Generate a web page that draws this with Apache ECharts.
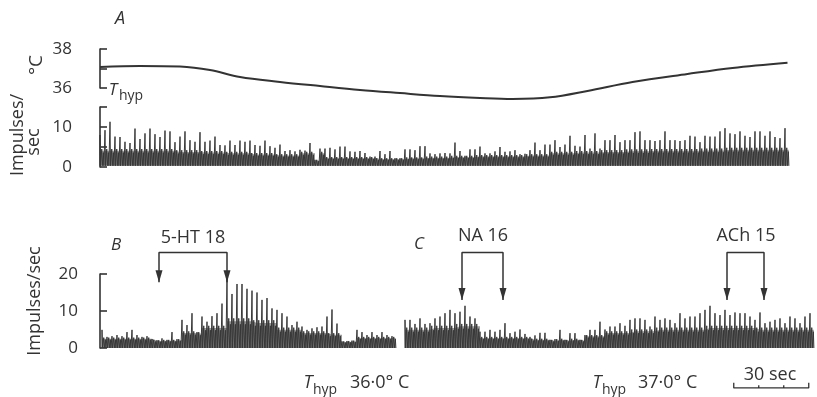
<!DOCTYPE html>
<html>
<head>
<meta charset="utf-8">
<script src="https://cdn.jsdelivr.net/npm/echarts@6/dist/echarts.min.js"></script>
<style>
  html, body { margin: 0; background: #fff; }
  #chart { width: 817px; height: 397px; }
</style>
</head>
<body>
<div id="chart"></div>
<script>
// time in seconds; ratemeter peaks read every 2 s, band level every 10 s
const DT = 2
const BAND_DT = 10
const X_MAX = 286

// A: hypothalamic temperature (deg C)
const tempTime = [0, 16, 32, 44, 56, 72, 88, 104, 120, 136, 152, 165, 180, 195, 213, 235, 253, 275]
const tempValues = [37.08, 37.13, 37.1, 36.92, 36.56, 36.31, 36.1, 35.9, 35.74, 35.59, 35.49, 35.44, 35.52, 35.85, 36.31, 36.72, 37.03, 37.3]

// A: impulses/sec
const startA = 0
const peaksA = [
  8, 9.2, 11.3, 7.6, 7.5, 6.3, 6, 9.6, 7, 8.4,
  9.6, 8.2, 7.5, 9.1, 8.9, 6.2, 7.6, 8.9, 6.7, 6.3,
  8.7, 6.3, 6.6, 7.6, 5.5, 5.4, 6.6, 5.5, 6.6, 6.3,
  6.6, 5.5, 5.3, 6.6, 5.2, 4.8, 5.6, 4.0, 4.2, 3.9,
  4.3, 4.1, 6.0, 1.8, 4.6, 4.6, 4.8, 4.4, 5.1, 5.1,
  3.9, 3.8, 4.0, 3.5, 2.6, 2.6, 4.0, 3.2, 4.0, 2.2,
  2.2, 4.4, 4.4, 4.2, 5.2, 5.2, 3.4, 3.2, 3.4, 3.5,
  3.4, 6.1, 4.0, 2.8, 4.4, 4.4, 5.1, 3.4, 3.4, 3.9,
  5.0, 3.8, 3.9, 4.2, 3.2, 3.3, 4.2, 6.1, 4.2, 5.6,
  5.6, 6.7, 5.0, 5.6, 7.8, 5.3, 5.1, 8.0, 4.6, 8.4,
  4.6, 6.7, 6.7, 8.0, 6.2, 6.7, 6.7, 8.7, 8.9, 6.7,
  6.7, 6.5, 6.7, 8.9, 6.7, 6.7, 6.5, 6.7, 7.8, 7.6,
  6.2, 7.8, 7.6, 7.6, 8.9, 9.7, 8.4, 8.2, 8.9, 7.8,
  7.5, 8.9, 8.9, 7.8, 8.9, 7.5, 7.2, 9.7
]
const bandA = [4.5, 4.5, 4.5, 4.2, 4, 3.8, 3.5, 3.2, 3.8, 2.5, 2.5, 2.2, 2.4, 2.6, 2.8, 3, 3, 3.2, 3.8, 4, 4.2, 4.4, 4.5, 4.5, 4.6, 4.8, 4.8, 4.8]
const floorA = 0.3

// B: 5-HT
const startB = 0.8
const peaksB = [
  4.9, 3.0, 3.2, 3.5, 3.2, 4.3, 4.9, 3.5, 3.0, 3.2,
  2.4, 2.1, 2.6, 2.2, 4.3, 2.4, 7.6, 6.2, 9.4, 4.3,
  8.5, 7.1, 8.6, 9.4, 12, 19, 14.6, 17.3, 17.3, 16,
  15.5, 15, 13, 13.5, 10.7, 10.3, 9.4, 8.5, 6.2, 7.1,
  5.8, 4.9, 5.3, 5.6, 5.8, 8.5, 10.4, 6.6, 1.8, 1.9,
  2.0, 4.9, 4.3, 3.5, 4.3, 3.5, 4.3, 3.5, 3.2
]
const bandB = [2.8, 2.8, 2.2, 4.5, 6, 8, 7.5, 5.5, 4.5, 4, 3, 3]

// C: NA and ACh
const startC = 122
const peaksC = [
  7.6, 7.6, 6.5, 8.0, 6.5, 6.7, 8.0, 8.5, 9.4, 10.3,
  9.4, 9.8, 11.4, 8.5, 8.0, 4.4, 4.4, 4.9, 4.4, 4.9,
  6.7, 4.0, 4.4, 5.0, 3.8, 3.0, 3.4, 4.1, 4.1, 2.2,
  2.4, 4.9, 2.2, 4.0, 4.0, 2.2, 3.5, 4.9, 4.9, 7.1,
  5.0, 5.8, 5.8, 6.7, 6.0, 7.6, 8.0, 8.0, 7.6, 5.8,
  8.5, 7.6, 8.0, 7.6, 6.7, 9.4, 8.0, 8.5, 8.5, 9.4,
  10.3, 11.4, 9.4, 8.9, 10.3, 8.9, 9.6, 9.4, 9.4, 8.5,
  7.6, 9.6, 6.7, 7.1, 7.6, 8.0, 6.7, 8.5, 8.0, 6.7,
  8.5, 9.4
]
const bandC = [5.5, 6, 6.5, 3, 3, 2.5, 2.5, 3.5, 4.5, 5, 5.5, 5.5, 6, 6, 5.5, 5.5, 5.5]
const floorBC = 0

// drug applications (bracket from on to off)
const drugNames = ['5-HT 18', 'NA 16', 'ACh 15']
const drugOn = [23.6, 144.8, 250.8]
const drugOff = [50.8, 161.2, 265.6]
const drugTip = [17.8, 13, 13]
const bracketTop = 25.8

// 30 sec time scale
const scaleStart = 253.5
const scaleLen = 30
const scaleTick = 10

const INK = '#333'
const TRACE = '#383838'
const FONT = "'Open Sans', 'DejaVu Sans', sans-serif"

function bandAt(band, i) {
  return band[Math.min(band.length - 1, Math.floor(i * DT / BAND_DT))]
}

// ratemeter strokes: one peak stroke and two band-level strokes per sample
function trace(start, peaks, band, floor) {
  const pts = []
  peaks.forEach((p, i) => {
    const t = start + i * DT
    const b = Math.min(bandAt(band, i), p)
    pts.push([t, floor], [t, p], [t + 0.2, floor], [t + 0.7, b], [t + 0.9, floor], [t + 1.35, b * 0.8], [t + 1.55, floor])
  })
  return pts
}

// dense dark mass of the trace, drawn as a filled band
function bandFill(start, peaks, band) {
  const pts = peaks.map((p, i) => [start + i * DT, Math.min(bandAt(band, i), p) * 0.9])
  pts.push([start + (peaks.length - 1) * DT + 1.5, pts[pts.length - 1][1]])
  return pts
}

const traceA = trace(startA, peaksA, bandA, floorA)
const traceBC = trace(startB, peaksB, bandB, floorBC)
  .concat([[null, null]])
  .concat(trace(startC, peaksC, bandC, floorBC))
const fillA = bandFill(startA, peaksA, bandA)
const fillBC = bandFill(startB, peaksB, bandB)
  .concat([[null, null]])
  .concat(bandFill(startC, peaksC, bandC))

const chart = echarts.init(document.getElementById('chart'), null, { renderer: 'canvas' })

function bracketAxis(gridIndex, min, max, interval, offset, margin, labelFn) {
  return {
    type: 'value', gridIndex, min, max, interval, offset,
    axisLine: { show: true, lineStyle: { color: INK, width: 1.6 } },
    axisTick: { show: true, inside: true, length: 7, lineStyle: { color: INK, width: 1.6 } },
    axisLabel: { margin, color: INK, fontSize: 17, fontFamily: FONT, formatter: labelFn },
    splitLine: { show: false }
  }
}

const xAxisBase = { type: 'value', min: 0, max: X_MAX, show: false }

const drugSeries = drugNames.map((name, i) => ({
  name,
  type: 'line',
  xAxisIndex: 2, yAxisIndex: 2,
  clip: false,
  silent: true,
  symbolSize: [7, 12],
  symbolOffset: [0, -6],
  lineStyle: { color: INK, width: 1.5 },
  itemStyle: { color: INK },
  data: [
    { value: [drugOn[i], drugTip[i]], symbol: 'triangle', symbolRotate: 180 },
    { value: [drugOn[i], bracketTop], symbol: 'none' },
    { value: [drugOff[i], bracketTop], symbol: 'none' },
    { value: [drugOff[i], drugTip[i]], symbol: 'triangle', symbolRotate: 180 }
  ]
}))

const scaleData = [[scaleStart, -9.4]]
for (let s = 0; s <= scaleLen; s += scaleTick) {
  const t = scaleStart + s
  scaleData.push([t, -10.8])
  if (s > 0 && s < scaleLen) scaleData.push([t, -10.1], [t, -10.8])
}
scaleData.push([scaleStart + scaleLen, -9.4])

function txt(text, x, y, size, opts = {}) {
  return {
    type: 'text', x, y, rotation: opts.rotation || 0, silent: true,
    style: {
      text, fill: INK, align: opts.align || 'center', verticalAlign: 'middle',
      font: (opts.italic ? 'italic ' : '') + size + 'px ' + FONT
    }
  }
}

function fillSeries(name, axis, data, floor) {
  return {
    name, type: 'line', xAxisIndex: axis, yAxisIndex: axis,
    step: 'end', showSymbol: false, silent: true, connectNulls: false,
    lineStyle: { width: 0 },
    areaStyle: { color: 'rgba(50,50,50,0.7)', origin: floor },
    data
  }
}

const option = {
  animation: false,
  backgroundColor: '#fff',
  grid: [
    { left: 100, top: 49, width: 2.5 * X_MAX, height: 39 },
    { left: 100, top: 107, width: 2.5 * X_MAX, height: 60 },
    { left: 100, top: 274, width: 2.5 * X_MAX, height: 74 }
  ],
  xAxis: [
    { ...xAxisBase, gridIndex: 0 },
    { ...xAxisBase, gridIndex: 1 },
    { ...xAxisBase, gridIndex: 2 }
  ],
  yAxis: [
    bracketAxis(0, 36, 38, 1, 12, 16, v => (v === 37 ? '' : v)),
    bracketAxis(1, 0, 15, 5, 12, 16, v => (v === 0 || v === 10 ? v : '')),
    bracketAxis(2, 0, 20, 10, 14, 8, v => v)
  ],
  series: [
    {
      name: 'Thyp', type: 'line', xAxisIndex: 0, yAxisIndex: 0,
      clip: false, smooth: 0.35, showSymbol: false, silent: true,
      lineStyle: { color: INK, width: 2 },
      data: tempTime.map((t, i) => [t, tempValues[i]])
    },
    fillSeries('Band A', 1, fillA, floorA),
    fillSeries('Band B/C', 2, fillBC, floorBC),
    {
      name: 'Impulses A', type: 'line', xAxisIndex: 1, yAxisIndex: 1,
      showSymbol: false, silent: true,
      lineStyle: { color: TRACE, width: 1 },
      data: traceA
    },
    {
      name: 'Impulses B/C', type: 'line', xAxisIndex: 2, yAxisIndex: 2,
      showSymbol: false, silent: true, connectNulls: false,
      lineStyle: { color: TRACE, width: 1 },
      data: traceBC
    },
    ...drugSeries,
    {
      name: '30 sec', type: 'line', xAxisIndex: 2, yAxisIndex: 2,
      clip: false, showSymbol: false, silent: true,
      lineStyle: { color: INK, width: 1.3 },
      data: scaleData
    }
  ],
  graphic: [
    txt('A', 120, 19, 18, { italic: true }),
    txt('°C', 37, 65, 19, { rotation: Math.PI / 2 }),
    txt('Impulses/', 18, 135, 18, { rotation: Math.PI / 2 }),
    txt('sec', 34, 142, 18, { rotation: Math.PI / 2 }),
    txt('T', 113, 90, 17, { italic: true }),
    txt('hyp', 119, 96, 14, { align: 'left' }),
    txt('Impulses/sec', 35, 301, 18, { rotation: Math.PI / 2 }),
    txt('B', 116, 245, 17, { italic: true }),
    txt('5-HT 18', 193, 238, 18),
    txt('C', 419, 244, 17, { italic: true }),
    txt('NA 16', 483, 236, 18),
    txt('ACh 15', 746, 236, 18),
    txt('T', 308, 383, 18, { italic: true }),
    txt('hyp', 313, 390, 14, { align: 'left' }),
    txt('36·0° C', 350, 383, 18, { align: 'left' }),
    txt('T', 597, 383, 18, { italic: true }),
    txt('hyp', 602, 390, 14, { align: 'left' }),
    txt('37·0° C', 638, 383, 18, { align: 'left' }),
    txt('30 sec', 770, 375, 18)
  ]
}

chart.setOption(option)
</script>
</body>
</html>
